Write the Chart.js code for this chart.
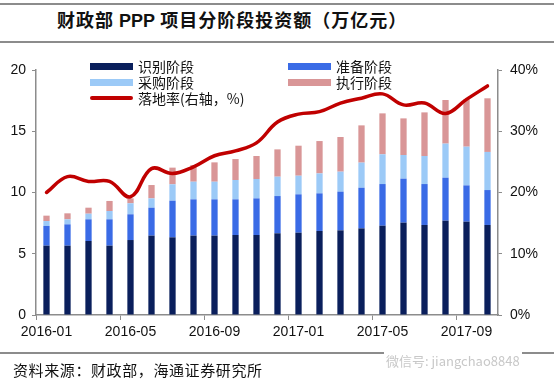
<!DOCTYPE html>
<html>
<head>
<meta charset="utf-8">
<script src="https://cdn.jsdelivr.net/npm/chart.js@4/dist/chart.umd.min.js"></script>
<style>
  body { margin: 0; background: #fff; }
  #wrap { position: relative; width: 554px; height: 384px; overflow: hidden; font-family: "Noto Sans CJK SC", sans-serif; }
  #chart { position: absolute; left: 0; top: 0; }
  .rule { position: absolute; left: 0; width: 554px; height: 2px; background: #8c8c8c; }
  #title { position: absolute; left: 57px; top: 6px; font-size: 18px; font-weight: bold; color: #111; white-space: nowrap; letter-spacing: 1px; }
  #title b { font-family: "Liberation Sans", Arial, sans-serif; letter-spacing: 0; }
  #source { position: absolute; left: 13px; top: 359px; font-size: 15px; color: #111; white-space: nowrap; letter-spacing: 0.6px; }
  #mark { position: absolute; left: 384px; top: 351px; font-size: 13px; color: #c8c8c8; white-space: nowrap; background: #fff; padding: 0 2px; }
  .lg { position: absolute; height: 16px; font-size: 14px; color: #111; white-space: nowrap; line-height: 16px; }
  .lg i { position: absolute; left: 0; width: 43px; }
  .lg span { position: absolute; left: 48px; top: 0; }
</style>
</head>
<body>
<div id="wrap">
  <div class="rule" style="top:3px"></div>
  <div id="title">财政部 <b>PPP</b> 项目分阶段投资额（万亿元）</div>
  <div class="rule" style="top:41px"></div>
  <canvas id="chart" width="554" height="384"></canvas>
  <div class="rule" style="top:352px;height:1.5px"></div>
  <div id="mark">微信号: jiangchao8848</div>
  <div id="source">资料来源：财政部，海通证券研究所</div>
  <div id="legend"></div>
</div>
<script>
// 月份 2016-01 ~ 2017-10
const months = ['2016-01','2016-02','2016-03','2016-04','2016-05','2016-06','2016-07','2016-08','2016-09','2016-10','2016-11','2016-12',
                '2017-01','2017-02','2017-03','2017-04','2017-05','2017-06','2017-07','2017-08','2017-09','2017-10'];

// 各阶段投资额（万亿元）
const shibie  = [5.66,5.66,6.04,5.66,6.12,6.48,6.34,6.48,6.48,6.53,6.53,6.67,6.72,6.86,6.91,7.07,7.29,7.54,7.35,7.70,7.62,7.35];
const zhunbei = [1.61,1.74,1.77,2.15,2.10,2.28,2.99,2.96,2.96,2.91,2.99,3.04,3.13,3.07,3.16,3.32,3.40,3.59,3.34,3.51,2.96,2.85];
const caigou  = [0.40,0.41,0.46,0.68,0.90,0.76,1.34,1.44,1.44,1.58,1.58,1.58,1.52,1.63,1.63,2.05,2.43,1.93,2.29,2.78,3.16,3.11];
const zhixing = [0.44,0.49,0.49,0.82,0.40,1.09,1.36,1.36,1.58,1.71,1.88,2.23,2.45,2.64,2.83,3.04,3.34,2.99,3.56,3.56,3.86,4.38];

// 落地率（右轴，%）
const luodilv = [20.0,22.6,21.8,21.8,19.3,23.9,23.1,24.2,26.0,26.8,28.1,31.5,32.8,33.2,34.6,35.4,36.1,34.3,34.6,32.9,35.2,37.4];

const leftTicks = [0, 5, 10, 15, 20];
const rightTicks = [0, 10, 20, 30, 40];

const axisGray = '#8c8c8c';
const tickFont = { family: '"Liberation Sans", Arial, sans-serif', size: 14 };

function bar(label, data, color) {
  return { type: 'bar', label, data, backgroundColor: color, yAxisID: 'y', stack: 's',
           barPercentage: 0.3, categoryPercentage: 1, order: 1 };
}

const datasets = [
  bar('识别阶段', shibie, '#0a1f5c'),
  bar('准备阶段', zhunbei, '#3a6be6'),
  bar('采购阶段', caigou, '#9ccaf7'),
  bar('执行阶段', zhixing, '#d99697'),
  { type: 'line', label: '落地率(右轴，%)', data: luodilv, yAxisID: 'y1', borderColor: '#c00000',
    borderWidth: 3.5, tension: 0.4, pointRadius: 0, fill: false, order: 0, borderCapStyle: 'round' }
];

new Chart(document.getElementById('chart'), {
  data: { labels: months, datasets },
  options: {
    responsive: false,
    animation: false,
    layout: { padding: { top: 70, left: 0, right: 0, bottom: 0 } },
    plugins: { legend: { display: false }, tooltip: { enabled: false } },
    scales: {
      x: {
        stacked: true,
        offset: true,
        grid: {
          offset: true, drawOnChartArea: false, tickLength: 5,
          color: c => (c.index % 4 === 0 ? axisGray : 'rgba(0,0,0,0)')
        },
        border: { color: axisGray, width: 1.5 },
        ticks: {
          autoSkip: false, maxRotation: 0, padding: 4, color: '#111', font: tickFont,
          callback: (v, i) => (i % 4 === 0 ? months[i] : '')
        },
        afterFit: s => { s.height = 69; }
      },
      y: {
        stacked: true, position: 'left', min: 0, max: 20,
        afterBuildTicks: s => { s.ticks = leftTicks.map(v => ({ value: v })); },
        grid: { drawOnChartArea: false, tickLength: 4, color: axisGray },
        border: { color: axisGray, width: 1.5 },
        ticks: { padding: 6, color: '#111', font: tickFont },
        afterFit: s => { s.width = 36; }
      },
      y1: {
        stacked: false, position: 'right', min: 0, max: 40,
        afterBuildTicks: s => { s.ticks = rightTicks.map(v => ({ value: v })); },
        grid: { drawOnChartArea: false, tickLength: 4, color: axisGray },
        border: { color: axisGray, width: 1.5 },
        ticks: { padding: 8, color: '#111', font: tickFont, callback: v => v + '%' },
        afterFit: s => { s.width = 56; }
      }
    }
  }
});

// 图例：两列排列
const legend = document.getElementById('legend');
datasets.forEach((d, i) => {
  const col = i % 2, row = Math.floor(i / 2);
  const item = document.createElement('div');
  item.className = 'lg';
  item.style.left = (90 + col * 198) + 'px';
  item.style.top = (58 + row * 16) + 'px';
  const sw = document.createElement('i');
  if (d.type === 'line') {
    sw.style.top = '6px'; sw.style.height = '4px'; sw.style.borderRadius = '2px'; sw.style.background = d.borderColor;
  } else {
    sw.style.top = '5px'; sw.style.height = '7px'; sw.style.background = d.backgroundColor;
  }
  const tx = document.createElement('span');
  tx.textContent = d.label;
  item.appendChild(sw);
  item.appendChild(tx);
  legend.appendChild(item);
});
</script>
</body>
</html>
